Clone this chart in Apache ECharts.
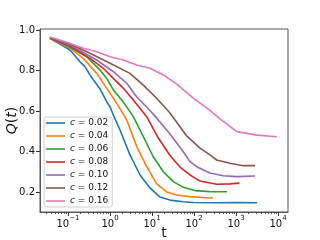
<!DOCTYPE html>
<html>
<head>
<meta charset="utf-8">
<script src="https://cdn.jsdelivr.net/npm/echarts@6/dist/echarts.min.js"></script>
<style>html,body{margin:0;padding:0;background:#fff;}#c{width:320px;height:240px;}</style>
</head>
<body>
<div id="c"></div>
<script>
// ---- data ----
const cLabels = ['0.02', '0.04', '0.06', '0.08', '0.10', '0.12', '0.16'];
const colors = ['#1f77b4', '#ff7f0e', '#2ca02c', '#d62728', '#9467bd', '#8c564b', '#e377c2'];

const t_c002 = [0.037, 0.112, 0.193, 0.254, 0.334, 0.578, 0.834, 1.0, 1.2, 1.73, 2.99, 5.18, 8.96, 15.5, 26.8, 54.7, 94.6, 353, 1000, 3160];
const q_c002 = [0.959, 0.901, 0.843, 0.819, 0.778, 0.709, 0.646, 0.621, 0.580, 0.506, 0.383, 0.284, 0.220, 0.175, 0.160, 0.152, 0.148, 0.147, 0.148, 0.147];

const t_c004 = [0.037, 0.112, 0.231, 0.482, 0.834, 1.445, 2.5, 4.33, 7.48, 12.9, 22.4, 38.7, 80.3, 240, 283];
const q_c004 = [0.959, 0.910, 0.860, 0.786, 0.712, 0.638, 0.556, 0.424, 0.325, 0.240, 0.200, 0.185, 0.177, 0.170, 0.173];

const t_c006 = [0.037, 0.112, 0.279, 0.578, 0.834, 1.2, 2.08, 3.59, 6.21, 10.7, 18.6, 32.1, 55.6, 106, 240, 611];
const q_c006 = [0.960, 0.915, 0.868, 0.802, 0.761, 0.704, 0.644, 0.572, 0.473, 0.374, 0.300, 0.251, 0.223, 0.207, 0.202, 0.201];

const t_c008 = [0.037, 0.112, 0.334, 0.692, 1.2, 2.08, 3.59, 7.48, 13.9, 26.8, 46.4, 80.3, 139, 347, 720, 1200];
const q_c008 = [0.960, 0.921, 0.860, 0.811, 0.761, 0.712, 0.654, 0.572, 0.469, 0.380, 0.323, 0.284, 0.254, 0.238, 0.240, 0.244];

const t_c010 = [0.037, 0.112, 0.482, 1.2, 2.5, 4.33, 7.48, 12.9, 26.8, 55.6, 80.3, 116, 240, 499, 1040, 2830];
const q_c010 = [0.963, 0.926, 0.852, 0.794, 0.737, 0.669, 0.620, 0.566, 0.486, 0.399, 0.350, 0.325, 0.294, 0.280, 0.276, 0.279];

const t_c012 = [0.037, 0.112, 0.334, 1.0, 2.99, 6.21, 12.9, 26.8, 41.6, 67, 139, 240, 347, 720, 1490, 2830];
const q_c012 = [0.963, 0.931, 0.885, 0.836, 0.786, 0.728, 0.663, 0.590, 0.536, 0.477, 0.417, 0.383, 0.358, 0.342, 0.330, 0.330];

const t_c016 = [0.037, 0.112, 0.231, 0.482, 1.0, 2.08, 4.33, 8.96, 18.6, 38.7, 96, 240, 416, 1040, 3110, 9460];
const q_c016 = [0.965, 0.934, 0.910, 0.893, 0.868, 0.852, 0.827, 0.811, 0.778, 0.733, 0.664, 0.603, 0.561, 0.498, 0.481, 0.473];

const xMajorTicks = [0.1, 1, 10, 100, 1000, 10000];
const xTickExponents = ['\u22121', '0', '1', '2', '3', '4'];
const xMinorTicks = [0.03, 0.04, 0.05, 0.06, 0.07, 0.08, 0.09,
  0.2, 0.3, 0.4, 0.5, 0.6, 0.7, 0.8, 0.9,
  2, 3, 4, 5, 6, 7, 8, 9,
  20, 30, 40, 50, 60, 70, 80, 90,
  200, 300, 400, 500, 600, 700, 800, 900,
  2000, 3000, 4000, 5000, 6000, 7000, 8000, 9000];
const yTicks = [0.2, 0.4, 0.6, 0.8, 1.0];

const tSeries = [t_c002, t_c004, t_c006, t_c008, t_c010, t_c012, t_c016];
const qSeries = [q_c002, q_c004, q_c006, q_c008, q_c010, q_c012, q_c016];

// ---- chart ----
const FONT = 'DejaVu Sans';
const xMin = Math.pow(10, -1.667), xMax = Math.pow(10, 4.238);
const chart = echarts.init(document.getElementById('c'), null, {renderer: 'canvas'});

const series = cLabels.map((c, i) => ({
  name: c,
  type: 'line',
  xAxisIndex: 0,
  yAxisIndex: 0,
  symbol: 'none',
  showSymbol: false,
  animation: false,
  lineStyle: {width: 1.6, color: colors[i]},
  itemStyle: {color: colors[i]},
  data: tSeries[i].map((t, k) => [t, qSeries[i][k]])
}));

function expOf(v) {
  const lg = Math.round(Math.log10(v));
  const idx = xMajorTicks.findIndex(m => Math.round(Math.log10(m)) === lg);
  return idx >= 0 ? xTickExponents[idx] : '';
}

chart.setOption({
  animation: false,
  backgroundColor: '#ffffff',
  color: colors,
  textStyle: {fontFamily: FONT},
  grid: {left: 40, top: 29, width: 248, height: 183, show: true, borderColor: '#555', borderWidth: 1,
    backgroundColor: 'transparent', containLabel: false, outerBoundsMode: 'none'},
  legend: {
    orient: 'vertical',
    left: 44, top: 117,
    padding: [1, 4, 1, 2],
    itemGap: 3,
    itemWidth: 19,
    itemHeight: 1.6,
    icon: 'rect',
    backgroundColor: 'rgba(255,255,255,0.8)',
    borderColor: '#d0d0d0',
    borderWidth: 1,
    borderRadius: 2,
    data: cLabels,
    formatter: n => '{i|c} = ' + n,
    textStyle: {fontFamily: FONT, fontSize: 9, color: '#111', lineHeight: 10,
      rich: {i: {fontFamily: FONT, fontStyle: 'italic', fontSize: 9, color: '#111', lineHeight: 10}}}
  },
  xAxis: [{
    type: 'log', logBase: 10, min: xMin, max: xMax,
    name: 't', nameLocation: 'middle', nameGap: 14, nameMoveOverlap: false,
    nameTextStyle: {fontFamily: FONT, fontSize: 14, color: '#111'},
    axisLine: {show: true, lineStyle: {color: '#555', width: 1}},
    splitLine: {show: false},
    axisTick: {show: true, length: 4, customValues: xMajorTicks, lineStyle: {color: '#333'}},
    axisLabel: {
      margin: 3,
      customValues: xMajorTicks,
      formatter: v => '{b|10}{s|' + expOf(v) + '}',
      rich: {
        b: {fontFamily: FONT, fontSize: 10, lineHeight: 14, verticalAlign: 'bottom', color: '#111'},
        s: {fontFamily: FONT, fontSize: 7, lineHeight: 7, verticalAlign: 'top', color: '#111'}
      }
    }
  }, {
    type: 'log', logBase: 10, min: xMin, max: xMax, position: 'bottom', offset: 0,
    axisLine: {show: false}, splitLine: {show: false}, axisLabel: {show: false},
    axisTick: {show: true, length: 2, customValues: xMinorTicks, lineStyle: {color: '#333', width: 0.8}}
  }],
  yAxis: {
    type: 'value', min: 0.1012, max: 1.005,
    name: '{i|Q}({i|t})', nameLocation: 'middle', nameGap: 21, nameRotate: 90, nameMoveOverlap: false,
    nameTextStyle: {fontFamily: FONT, fontSize: 14, color: '#111',
      rich: {i: {fontFamily: FONT, fontStyle: 'italic', fontSize: 14, color: '#111'}}},
    axisLine: {show: true, lineStyle: {color: '#555', width: 1}},
    splitLine: {show: false},
    axisTick: {show: true, length: 4, customValues: yTicks, lineStyle: {color: '#333'}},
    axisLabel: {margin: 5, customValues: yTicks, formatter: v => v.toFixed(1),
      fontFamily: FONT, fontSize: 10, color: '#111'}
  },
  series: series
});
</script>
</body>
</html>
